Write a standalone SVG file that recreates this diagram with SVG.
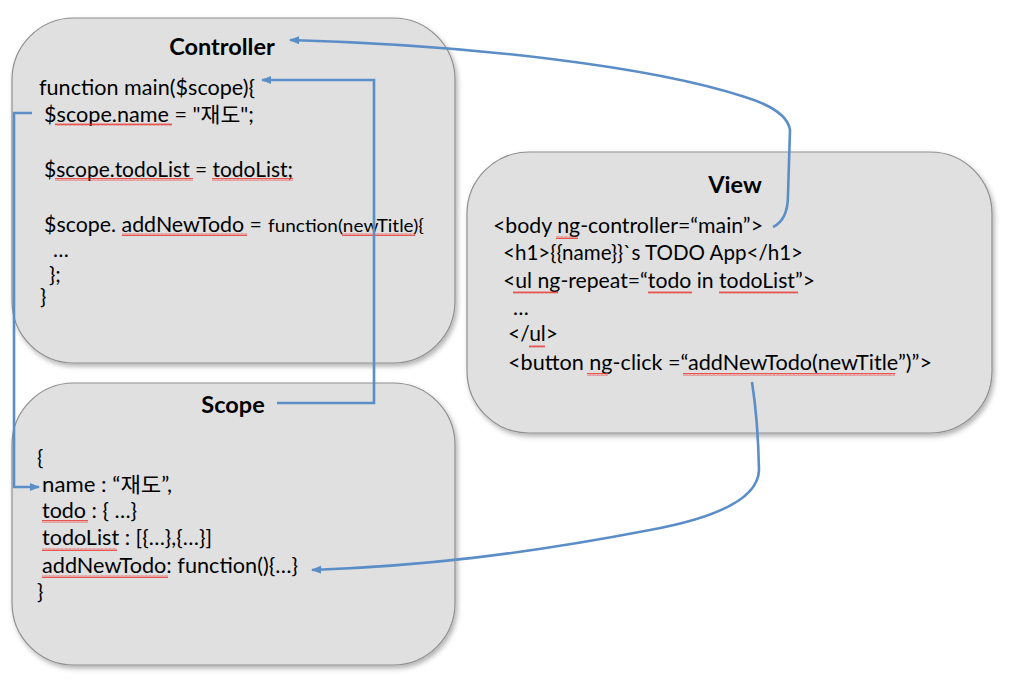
<svg xmlns="http://www.w3.org/2000/svg" width="1010" height="679" viewBox="0 0 1010 679">
<defs>
<filter id="sh" x="-5%" y="-5%" width="112%" height="115%">
<feDropShadow dx="2" dy="3" stdDeviation="2.5" flood-color="#000" flood-opacity="0.3"/>
</filter>
<pattern id="sq" width="4" height="3" patternUnits="userSpaceOnUse">
<path d="M0,2.5 L1,0.5 L2,2.5 L3,0.5 L4,2.5" fill="none" stroke="#e8312a" stroke-width="0.8"/>
</pattern>
<marker id="ah" viewBox="0 0 10 10" refX="9" refY="5" markerWidth="4" markerHeight="4" orient="auto-start-reverse" markerUnits="strokeWidth">
<path d="M0,1 L10,5 L0,9 Z" fill="#5b8ec7"/>
</marker>
</defs>
<style>
.box{fill:#e0e0e0;stroke:#8f8f8f;stroke-width:1.2;filter:url(#sh)}
.t{font-family:Lato,"Noto Sans CJK KR",sans-serif;font-size:21px;fill:#000}
.s{font-size:18px}
.h{font-family:Lato,sans-serif;font-size:23.5px;font-weight:bold;fill:#000;text-anchor:middle}
.c{fill:none;stroke:#5b8ec7;stroke-width:2.6}
.sq{fill:url(#sq)}
</style>
<rect width="1010" height="679" fill="#fff"/>
<g id="controller">
<rect class="box" x="12" y="18" width="443" height="345" rx="62" ry="62"/>
<text class="h" x="222" y="55">Controller</text>
<text class="t" x="39" y="95" textLength="216" lengthAdjust="spacingAndGlyphs">function main($scope){</text>
<text class="t" x="44" y="122" textLength="210" lengthAdjust="spacingAndGlyphs">$scope.name = "재도";</text>
<text class="t" x="44" y="177" textLength="249" lengthAdjust="spacingAndGlyphs">$scope.todoList = todoList;</text>
<text class="t" x="44" y="232" textLength="218" lengthAdjust="spacingAndGlyphs">$scope. addNewTodo =</text>
<text class="t s" x="268" y="232" textLength="156" lengthAdjust="spacingAndGlyphs">function(newTitle){</text>
<text class="t" x="53" y="257">…</text>
<text class="t" x="49" y="282">};</text>
<text class="t" x="40" y="304">}</text>
<rect class="sq" x="55" y="123" width="117" height="3"/>
<rect class="sq" x="55" y="178" width="138" height="3"/>
<rect class="sq" x="212" y="178" width="81" height="3"/>
<rect class="sq" x="122" y="233" width="125" height="3"/>
<rect class="sq" x="342" y="233" width="73" height="3"/>
</g>
<g id="scope">
<rect class="box" x="12" y="383" width="443" height="282" rx="62" ry="62"/>
<text class="h" x="233" y="413">Scope</text>
<text class="t" x="37" y="465">{</text>
<text class="t" x="42" y="492" textLength="130" lengthAdjust="spacingAndGlyphs">name : “재도”,</text>
<text class="t" x="42" y="518" textLength="95" lengthAdjust="spacingAndGlyphs">todo : { …}</text>
<text class="t" x="42" y="545" textLength="170" lengthAdjust="spacingAndGlyphs">todoList : [{…},{…}]</text>
<text class="t" x="42" y="573" textLength="256" lengthAdjust="spacingAndGlyphs">addNewTodo: function(){…}</text>
<text class="t" x="37" y="599">}</text>
<rect class="sq" x="42" y="520" width="46" height="3"/>
<rect class="sq" x="42" y="548" width="75" height="3"/>
<rect class="sq" x="42" y="575" width="126" height="3"/>
</g>
<g id="view">
<rect class="box" x="467" y="152" width="525" height="281" rx="62" ry="62"/>
<text class="h" x="735" y="193">View</text>
<text class="t" x="493" y="233" textLength="270" lengthAdjust="spacingAndGlyphs">&lt;body ng-controller=“main”&gt;</text>
<text class="t" x="503" y="260" textLength="300" lengthAdjust="spacingAndGlyphs">&lt;h1&gt;{{name}}`s TODO App&lt;/h1&gt;</text>
<text class="t" x="503" y="288" textLength="312" lengthAdjust="spacingAndGlyphs">&lt;ul ng-repeat=“todo in todoList”&gt;</text>
<text class="t" x="513" y="315">…</text>
<text class="t" x="508" y="341" textLength="50" lengthAdjust="spacingAndGlyphs">&lt;/ul&gt;</text>
<text class="t" x="508" y="370" textLength="424" lengthAdjust="spacingAndGlyphs">&lt;button ng-click =“addNewTodo(newTitle”)”&gt;</text>
<rect class="sq" x="556" y="236" width="22" height="3"/>
<rect class="sq" x="513" y="291" width="45" height="3"/>
<rect class="sq" x="648" y="291" width="44" height="3"/>
<rect class="sq" x="719" y="291" width="79" height="3"/>
<rect class="sq" x="529" y="345" width="16" height="3"/>
<rect class="sq" x="587" y="373" width="21" height="3"/>
<rect class="sq" x="683" y="373" width="212" height="3"/>
</g>
<g id="connectors">
<path class="c" d="M773,227 Q788,220 788,195 L790,130 Q787,110 745,97 C650,66 470,45 290,40" marker-end="url(#ah)"/>
<path class="c" d="M277,403 L374,403 L374,80 L262,80" marker-end="url(#ah)"/>
<path class="c" d="M32,113 L14,113 L14,487 L39,487" marker-end="url(#ah)"/>
<path class="c" d="M752,382 Q758,420 759,470 Q758,510 650,530 C520,555 420,566 312,570" marker-end="url(#ah)"/>
</g>
</svg>
